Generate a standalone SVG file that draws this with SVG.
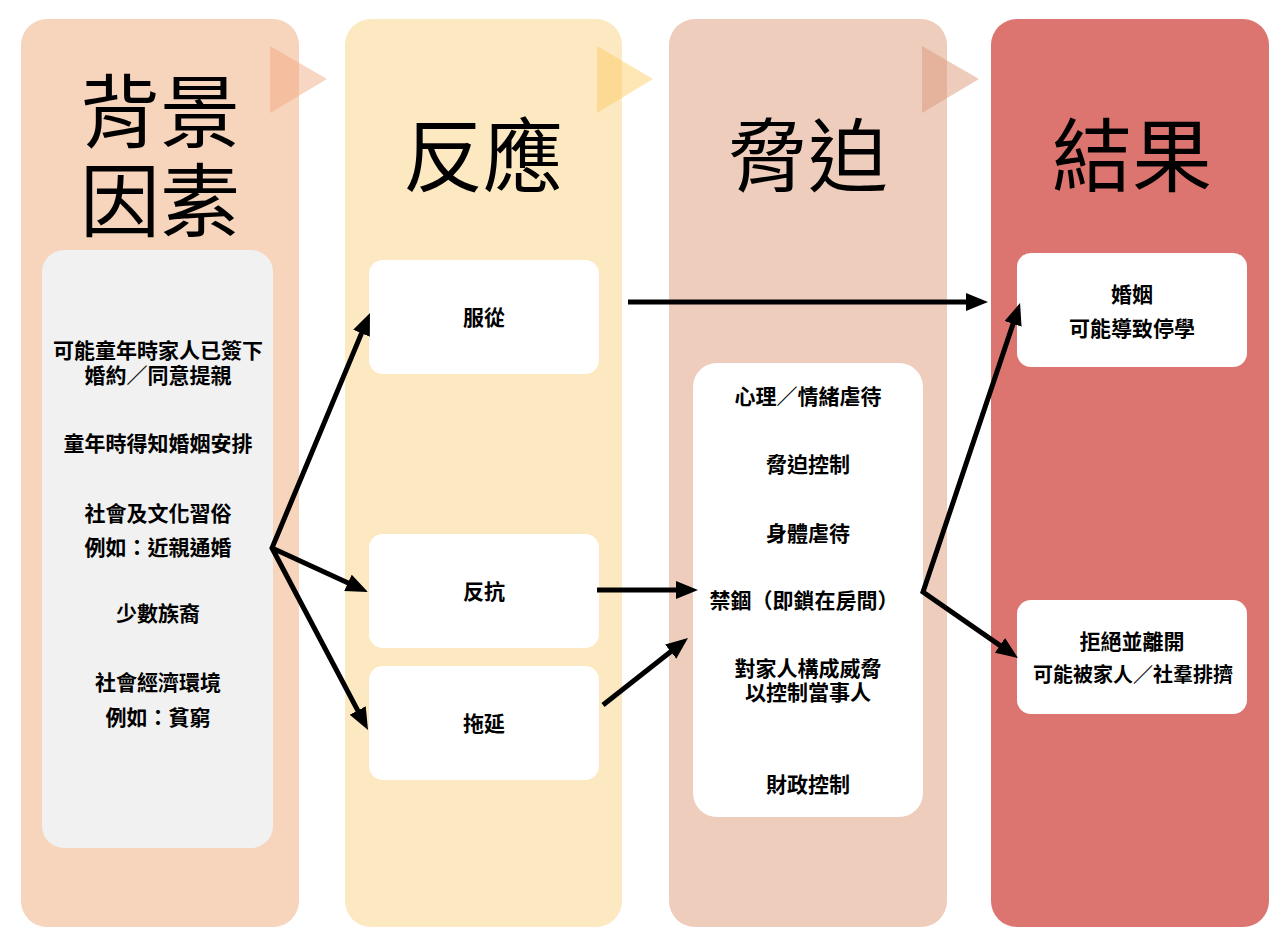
<svg xmlns="http://www.w3.org/2000/svg" width="1286" height="941" viewBox="0 0 1286 941">
<style>
.title{font-family:"Noto Sans CJK TC","Noto Sans CJK SC",sans-serif;font-size:80px;font-weight:400;fill:#000;text-anchor:middle;dominant-baseline:central}
.t{font-family:"Noto Sans CJK TC","Noto Sans CJK SC",sans-serif;font-size:21px;font-weight:700;fill:#000;text-anchor:middle;dominant-baseline:central}
.t20{font-size:20px}
.box{fill:#ffffff}
.conn{fill:none;stroke:#000;stroke-width:5;stroke-linejoin:miter}
</style>
<defs>
<marker id="ah" markerUnits="userSpaceOnUse" markerWidth="22" markerHeight="18" refX="14" refY="9" orient="auto-start-reverse" viewBox="0 0 22 18">
<path d="M0,0 L22,9 L0,18 z" fill="#000"/>
</marker>
</defs>
<rect width="1286" height="941" fill="#ffffff"/>

<g id="col-background">
<rect x="21" y="19" width="278" height="908" rx="26" fill="#f7d4bc"/>
<polygon points="270,46 327,79 270,113" fill="#f0a47c" fill-opacity="0.45"/>
<text class="title" x="160" y="106">背景<tspan x="160" dy="89">因素</tspan></text>
</g>

<g id="col-response">
<rect x="345" y="19" width="277" height="908" rx="26" fill="#fde9c1"/>
<polygon points="597,46 653,79 597,113" fill="#fcc85a" fill-opacity="0.45"/>
<text class="title" x="483" y="150">反應</text>
</g>

<g id="col-coercion">
<rect x="669" y="19" width="278" height="908" rx="26" fill="#eecdbd"/>
<polygon points="922,46 979,79 922,113" fill="#dc9a7a" fill-opacity="0.5"/>
<text class="title" x="808" y="150">脅迫</text>
</g>

<g id="col-outcome">
<rect x="991" y="19" width="278" height="908" rx="26" fill="#dc756f"/>
<text class="title" x="1132" y="150">結果</text>
</g>

<g id="factors">
<rect x="42" y="250" width="231" height="598" rx="22" fill="#f1f1f1"/>
<text class="t" x="158" y="349">可能童年時家人已簽下<tspan x="158" dy="25">婚約／同意提親</tspan></text>
<text class="t" x="158" y="442">童年時得知婚姻安排</text>
<text class="t" x="158" y="512">社會及文化習俗<tspan x="158" dy="34">例如：近親通婚</tspan></text>
<text class="t" x="158" y="612">少數族裔</text>
<text class="t" x="158" y="681">社會經濟環境<tspan x="158" dy="35">例如：貧窮</tspan></text>
</g>

<g id="comply">
<rect class="box" x="369" y="260" width="230" height="114" rx="14"/>
<text class="t" x="484" y="316">服從</text>
</g>
<g id="resist">
<rect class="box" x="369" y="534" width="230" height="114" rx="14"/>
<text class="t" x="484" y="590">反抗</text>
</g>
<g id="delay">
<rect class="box" x="369" y="666" width="230" height="114" rx="14"/>
<text class="t" x="484" y="722">拖延</text>
</g>

<g id="coercion-list">
<rect class="box" x="693" y="363" width="230" height="454" rx="24"/>
<text class="t" x="808" y="395">心理／情緒虐待</text>
<text class="t" x="808" y="463">脅迫控制</text>
<text class="t" x="808" y="532">身體虐待</text>
<text class="t" x="804" y="599">禁錮（即鎖在房間）</text>
<text class="t" x="808" y="667">對家人構成威脅<tspan x="808" dy="24">以控制當事人</tspan></text>
<text class="t" x="808" y="783">財政控制</text>
</g>

<g id="marriage">
<rect class="box" x="1017" y="253" width="230" height="114" rx="14"/>
<text class="t" x="1132" y="293">婚姻<tspan x="1132" dy="34">可能導致停學</tspan></text>
</g>
<g id="refuse">
<rect class="box" x="1017" y="600" width="230" height="114" rx="14"/>
<text class="t" x="1132" y="640">拒絕並離開<tspan class="t20" x="1133" dy="33">可能被家人／社羣排擠</tspan></text>
</g>

<g id="connectors">
<path class="conn" d="M366.9,320.4 L272,548 L364.3,722.9" marker-start="url(#ah)" marker-end="url(#ah)"/>
<path class="conn" d="M272,548 L360.7,588.7" marker-end="url(#ah)"/>
<path class="conn" d="M628,302 L980,302" marker-end="url(#ah)"/>
<path class="conn" d="M597,590 L690,590" marker-end="url(#ah)"/>
<path class="conn" d="M603,705 L681.7,643" marker-end="url(#ah)"/>
<path class="conn" d="M1017.5,310.6 L923,592 L1011.4,653.4" marker-start="url(#ah)" marker-end="url(#ah)"/>
</g>
</svg>
